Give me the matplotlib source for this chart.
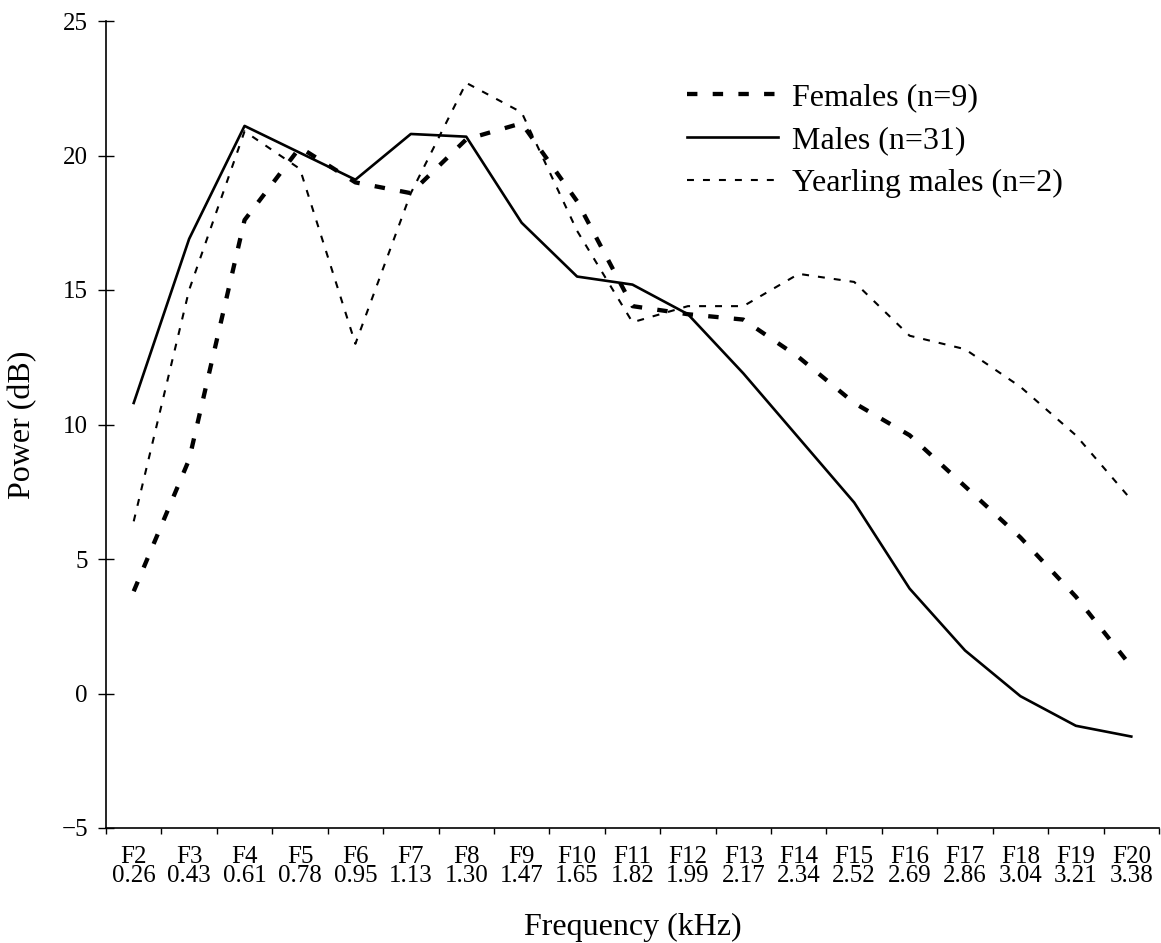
import numpy as np
import matplotlib
matplotlib.use('Agg')
import matplotlib.pyplot as plt

plt.rcParams['font.family'] = ['Liberation Serif', 'DejaVu Serif']
plt.rcParams['lines.scale_dashes'] = False

# formant labels and their frequencies (kHz)
formants = ['F2', 'F3', 'F4', 'F5', 'F6', 'F7', 'F8', 'F9', 'F10', 'F11',
            'F12', 'F13', 'F14', 'F15', 'F16', 'F17', 'F18', 'F19', 'F20']
freqs = ['0.26', '0.43', '0.61', '0.78', '0.95', '1.13', '1.30', '1.47', '1.65', '1.82',
         '1.99', '2.17', '2.34', '2.52', '2.69', '2.86', '3.04', '3.21', '3.38']

# power (dB)
females = [3.8, 8.7, 17.6, 20.3, 19.0, 18.6, 20.6, 21.2, 18.3, 14.4,
           14.1, 13.9, 12.5, 10.8, 9.6, 7.7, 5.8, 3.6, 1.0]
males = [10.8, 16.9, 21.1, 20.1, 19.1, 20.8, 20.7, 17.5, 15.5, 15.2,
         14.1, 11.9, 9.5, 7.1, 3.9, 1.6, -0.1, -1.2, -1.6]
yearling = [6.4, 15.0, 20.9, 19.5, 13.0, 18.6, 22.7, 21.6, 17.2, 13.8,
            14.4, 14.4, 15.6, 15.3, 13.3, 12.8, 11.4, 9.6, 7.2]

x = np.arange(len(formants))

fig = plt.figure(figsize=(11.61, 9.43), dpi=100)
ax = fig.add_axes([106/1161, 1 - 828/943, 1053/1161, 807/943])

ax.plot(x, females, color='black', lw=3.1, dashes=(7.5, 11), label='Females (n=9)')
ax.plot(x, males, color='black', lw=1.9, label='Males (n=31)')
ax.plot(x, yearling, color='black', lw=1.5, dashes=(5, 6.5), label='Yearling males (n=2)')

ax.set_xlim(-0.5, len(formants) - 0.5)
ax.set_ylim(-5, 25)
ax.set_yticks(np.arange(-5, 26, 5))

# category boundaries get tick marks, centres get the labels
ax.set_xticks(np.arange(-0.5, len(formants), 1.0))
ax.set_xticklabels([])
ax.set_xticks(x, minor=True)
ax.set_xticklabels([f + '\n' + k for f, k in zip(formants, freqs)], minor=True,
                   linespacing=0.8)
ax.tick_params(axis='x', which='major', direction='out', length=4, width=1)
ax.tick_params(axis='x', which='minor', length=0, pad=13, labelsize=18)
ax.tick_params(axis='y', direction='inout', length=12, width=1, pad=7, labelsize=18)

for s in ['top', 'right']:
    ax.spines[s].set_visible(False)
ax.spines['left'].set_linewidth(1.2)
ax.spines['bottom'].set_linewidth(1.2)

ax.set_ylabel('Power (dB)', fontsize=23)
ax.yaxis.set_label_coords(-0.065, 0.5)
ax.set_xlabel('Frequency (kHz)', fontsize=23)
ax.xaxis.set_label_coords(0.5, -0.105)

fig.legend(loc='upper left', bbox_to_anchor=(687/1161, 1 - 83/943), frameon=False,
           fontsize=23, handlelength=2.85, handletextpad=0.45, labelspacing=0.42,
           borderpad=0, borderaxespad=0)

fig.savefig('out.png', dpi=100)
